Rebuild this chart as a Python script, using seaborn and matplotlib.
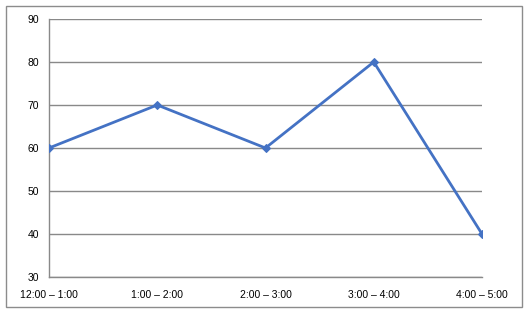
import matplotlib
matplotlib.use("Agg")
import matplotlib.pyplot as plt
import seaborn as sns
import pandas as pd
from matplotlib.patches import Rectangle

categories = ["12:00 – 1:00", "1:00 – 2:00", "2:00 – 3:00", "3:00 – 4:00", "4:00 – 5:00"]
values = [60, 70, 60, 80, 40]
yticks = [30, 40, 50, 60, 70, 80, 90]

sns.set_style("white")
plt.rcParams['font.family'] = ['Liberation Sans', 'DejaVu Sans']

df = pd.DataFrame({"slot": range(len(categories)), "value": values})

fig = plt.figure(figsize=(5.25, 3.11), dpi=100)
ax = fig.add_axes([49/525, 1-277/311, (482-49)/525, (277-19)/311])

sns.lineplot(data=df, x="slot", y="value", ax=ax, color="#4472C4", linewidth=2,
             marker="D", markersize=4, markeredgecolor="#4472C4", zorder=3)

ax.set_xlim(0, len(categories)-1)
ax.set_ylim(30, 90)
ax.set_yticks(yticks)
ax.set_xticks(range(len(categories)))
ax.set_xticklabels(categories)
ax.set_xlabel("")
ax.set_ylabel("")
ax.yaxis.grid(True, color="#898989", linewidth=1)
ax.set_axisbelow(True)
for s in ["top", "right"]:
    ax.spines[s].set_visible(False)
for s in ["left", "bottom"]:
    ax.spines[s].set_color("#898989")
    ax.spines[s].set_linewidth(1)
ax.tick_params(axis="both", which="both", direction="out", length=4, width=1,
               color="#898989", labelsize=7.5, labelcolor="#000000", pad=3)
ax.tick_params(axis="x", pad=5)

fig.patches.append(Rectangle((6/525, 4/311), (522-6)/525, (307-6)/311,
                             transform=fig.transFigure, fill=False,
                             edgecolor="#8c8c8c", linewidth=1))

fig.savefig("out.png", dpi=100)
